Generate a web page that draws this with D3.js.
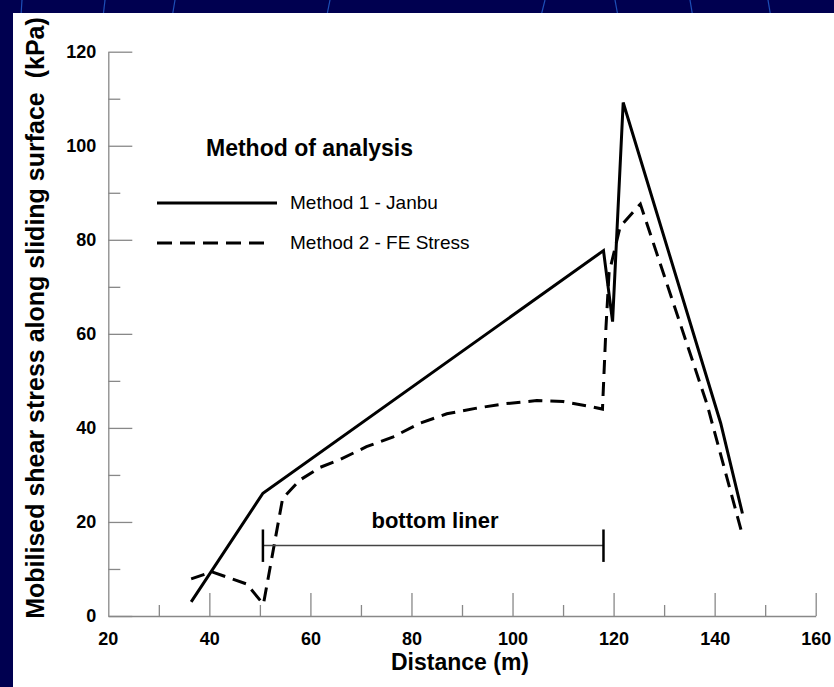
<!DOCTYPE html>
<html>
<head>
<meta charset="utf-8">
<script src="https://cdn.jsdelivr.net/npm/d3@7"></script>
<style>
  body { margin: 0; background: #000050; }
  svg { display: block; font-family: Arial, "Liberation Sans", sans-serif; }
</style>
</head>
<body>
<div id="chart"></div>
<script>
// data
const janbuX = [36.4, 50.6, 118.0, 119.8, 121.9, 141.2, 145.5];
const janbuY = [3.0, 26.1, 77.7, 62.6, 109.2, 41.0, 21.8];

const feX = [36.4, 40.5, 47.4, 50.7, 54.5, 57.9, 61.9, 65.9, 71.1, 76.4, 81.7, 87.0, 92.9, 98.2,
             104.8, 110.0, 114.7, 117.8, 118.5, 119.1, 121.3, 125.3, 138.5, 145.4];
const feY = [7.9, 9.4, 6.8, 2.5, 25.0, 28.9, 31.6, 33.3, 36.0, 38.1, 41.0, 43.0, 44.2, 45.1,
             45.8, 45.6, 44.7, 44.0, 61.5, 72.9, 82.8, 87.6, 45.0, 17.6];

const xTicks = [20, 40, 60, 80, 100, 120, 140, 160];
const yTicks = [0, 20, 40, 60, 80, 100, 120];
const seriesNames = ["Method 1 - Janbu", "Method 2 - FE Stress"];
const linerStart = 50.6, linerEnd = 118.0, linerLevel = 15;

const width = 834, height = 687;

const svg = d3.select("#chart").append("svg")
    .attr("width", width)
    .attr("height", height);

// slide background: navy frame with a few faint arcs
svg.append("rect").attr("width", width).attr("height", height).attr("fill", "#000050");
const arcs = [[22, 0, 18, 60], [105, 0, 98, 60], [175, 0, 165, 60], [330, 0, 318, 60], [545, 0, 530, 60],
              [615, 0, 626, 60], [690, 0, 700, 60], [768, 0, 778, 60]];
svg.selectAll("line.deco").data(arcs).enter().append("line")
    .attr("x1", d => d[0]).attr("y1", d => d[1]).attr("x2", d => d[2]).attr("y2", d => d[3])
    .attr("stroke", "#1d4fb8").attr("stroke-width", 1.2);
svg.append("rect").attr("x", 13).attr("y", 13).attr("width", width - 13).attr("height", height - 13)
    .attr("fill", "#ffffff");

const x = d3.scaleLinear().domain([20, 160]).range([108.3, 815.7]);
const y = d3.scaleLinear().domain([0, 120]).range([616, 51.7]);

const axisColor = "#888888";

// y axis, ticks pointing into the plot
const yMinor = svg.append("g").attr("transform", `translate(${x(20)},0)`)
    .call(d3.axisLeft(y).tickValues(d3.range(10, 120, 20)).tickSize(-12).tickFormat(""));
yMinor.select(".domain").remove();
const yAxis = svg.append("g").attr("transform", `translate(${x(20)},0)`)
    .call(d3.axisLeft(y).tickValues(yTicks).tickSize(-24).tickSizeOuter(0).tickPadding(12));

// x axis, ticks pointing up
const xMinor = svg.append("g").attr("transform", `translate(0,${y(0)})`)
    .call(d3.axisBottom(x).tickValues(d3.range(30, 160, 20)).tickSize(-11).tickFormat(""));
xMinor.select(".domain").remove();
const xAxis = svg.append("g").attr("transform", `translate(0,${y(0)})`)
    .call(d3.axisBottom(x).tickValues(xTicks.slice(1)).tickSize(-23).tickSizeOuter(0).tickPadding(0));
// label for 20 sits on the corner
xAxis.append("g").attr("class", "tick").attr("transform", `translate(${x(20)},0)`)
    .append("text").text("20");

svg.selectAll(".domain, .tick line").attr("stroke", axisColor).attr("stroke-width", 1.3);
yAxis.selectAll("text").attr("font-size", 18).attr("font-weight", "bold")
    .attr("font-family", "Arial, 'Liberation Sans', sans-serif").attr("fill", "#000");
xAxis.selectAll("text").attr("font-size", 18).attr("font-weight", "bold")
    .attr("font-family", "Arial, 'Liberation Sans', sans-serif").attr("fill", "#000")
    .attr("text-anchor", "middle").attr("dy", null).attr("y", 29);

// axis titles
svg.append("text")
    .attr("x", 460).attr("y", 670)
    .attr("text-anchor", "middle")
    .attr("font-size", 23).attr("font-weight", "bold")
    .text("Distance (m)");

svg.append("text")
    .attr("transform", "translate(44,318) rotate(-90)")
    .attr("text-anchor", "middle")
    .attr("font-size", 25).attr("font-weight", "bold")
    .attr("xml:space", "preserve")
    .text("Mobilised shear stress along sliding surface  (kPa)");

// series
const line = d3.line().x(d => x(d[0])).y(d => y(d[1]));
const janbu = janbuX.map((v, i) => [v, janbuY[i]]);
const fe = feX.map((v, i) => [v, feY[i]]);

svg.append("path").datum(janbu)
    .attr("d", line)
    .attr("fill", "none").attr("stroke", "#000").attr("stroke-width", 3);

svg.append("path").datum(fe)
    .attr("d", line)
    .attr("fill", "none").attr("stroke", "#000").attr("stroke-width", 3)
    .attr("stroke-dasharray", "14,8");

// bottom liner bracket
svg.append("line")
    .attr("x1", x(linerStart)).attr("x2", x(linerEnd))
    .attr("y1", y(linerLevel)).attr("y2", y(linerLevel))
    .attr("stroke", "#444").attr("stroke-width", 1.5);
svg.selectAll("line.cap").data([linerStart, linerEnd]).enter().append("line")
    .attr("class", "cap")
    .attr("x1", d => x(d)).attr("x2", d => x(d))
    .attr("y1", y(linerLevel + 3.4)).attr("y2", y(linerLevel - 3.5))
    .attr("stroke", "#000").attr("stroke-width", 2.5);
svg.append("text")
    .attr("x", 435).attr("y", 528)
    .attr("text-anchor", "middle")
    .attr("font-size", 22).attr("font-weight", "bold")
    .text("bottom liner");

// legend
svg.append("text")
    .attr("x", 206).attr("y", 156)
    .attr("font-size", 23).attr("font-weight", "bold")
    .text("Method of analysis");

const legend = svg.selectAll("g.legend").data(seriesNames).enter().append("g")
    .attr("class", "legend")
    .attr("transform", (d, i) => `translate(0,${203 + i * 40})`);
legend.append("line")
    .attr("x1", 157).attr("x2", (d, i) => i === 0 ? 277 : 268)
    .attr("stroke", "#000").attr("stroke-width", 3)
    .attr("stroke-dasharray", (d, i) => i === 0 ? null : "15,8");
legend.append("text")
    .attr("x", 290).attr("y", 6)
    .attr("font-size", 19)
    .text(d => d);
</script>
</body>
</html>
